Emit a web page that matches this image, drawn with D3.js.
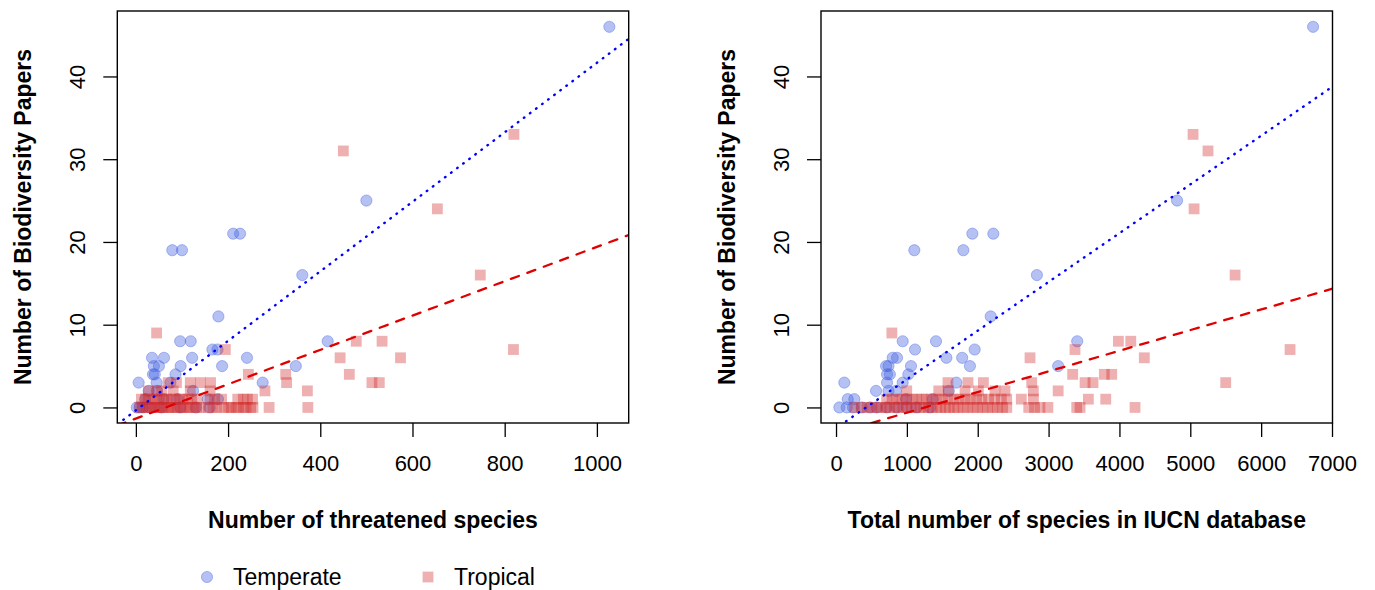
<!DOCTYPE html>
<html>
<head>
<meta charset="utf-8">
<script src="https://cdn.jsdelivr.net/npm/d3@7"></script>
<style>
  body { margin: 0; background: #fff; }
  text { font-family: "Liberation Sans", Arial, Helvetica, sans-serif; fill: #000; }
</style>
</head>
<body>
<div id="graf"></div>
<script>
// I. [x, papers]
temperadoAmen = [[1027,46],[500,25],[211,21],[226,21],[79,19],[100,19],[361,16],[179,11],
  [96,8],[119,8],[416,8],[166,7],[177,7],[35,6],[61,6],[122,6],[241,6],[39,5],[50,5],[97,5],
  [187,5],[347,5],[37,4],[41,4],[86,4],[6,3],[45,3],[75,3],[275,3],[28,2],[46,2],[124,2],
  [20,1],[60,1],[90,1],[156,1],[178,1],[2,0],[8,0],[15,0],[30,0],[55,0],[96,0],[130,0],[160,0]]

tropicalAmen = [[820,33],[450,31],[654,24],[747,16],[45,9],[478,8],[534,8],[194,7],[819,7],
  [443,6],[574,6],[244,4],[325,4],[463,4],
  [70,3],[88,3],[118,3],[140,3],[162,3],[327,3],[512,3],[528,3],
  [27,2],[46,2],[56,2],[81,2],[118,2],[161,2],[280,2],[372,2],
  [12,1],[21,1],[27,1],[36,1],[45,1],[51,1],[61,1],[67,1],[77,1],[85,1],[95,1],[102,1],
  [113,1],[121,1],[133,1],[161,1],[171,1],[186,1],[221,1],[233,1],[242,1],[253,1],
  [8,0],[14,0],[23,0],[28,0],[35,0],[40,0],[47,0],[51,0],[59,0],[63,0],[71,0],[76,0],
  [85,0],[89,0],[98,0],[103,0],[111,0],[117,0],[126,0],[132,0],[141,0],[157,0],[167,0],
  [176,0],[191,0],[201,0],[207,0],[217,0],[223,0],[233,0],[239,0],[249,0],[254,0],[289,0],[373,0]]

temperadoTotal = [[6733,46],[4813,25],[1924,21],[2220,21],[1105,19],[1797,19],[2835,16],
  [2183,11],[941,8],[1411,8],[3404,8],[1115,7],[1957,7],[800,6],[861,6],[1558,6],[1780,6],
  [706,5],[740,5],[1058,5],[1890,5],[3135,5],[720,4],[760,4],[1021,4],[117,3],[720,3],
  [941,3],[1700,3],[565,2],[740,2],[847,2],[1592,2],[165,1],[258,1],[988,1],[1365,1],
  [47,0],[151,0],[240,0],[363,0],[480,0],[574,0],[715,0],[856,0],[997,0],[1138,0],[1327,0]]

tropicalTotal = [[5039,33],[5250,31],[5053,24],[5632,16],[788,9],[3985,8],[4160,8],
  [3373,7],[6408,7],[2738,6],[4351,6],[3340,4],[3787,4],[3891,4],
  [1580,3],[1863,3],[2080,3],[2762,3],[3515,3],[3627,3],[5500,3],
  [998,2],[1450,2],[1585,2],[1821,2],[2009,2],[2244,2],[2385,2],[2785,2],[3135,2],
  [715,1],[792,1],[858,1],[934,1],[996,1],[1075,1],[1138,1],[1214,1],[1277,1],[1352,1],
  [1418,1],[1503,1],[1577,1],[1664,1],[1738,1],[1823,1],[1897,1],[1984,1],[2058,1],
  [2153,1],[2238,1],[2333,1],[2409,1],[2615,1],[2786,1],[3561,1],[3807,1],
  [262,0],[358,0],[441,0],[508,0],[583,0],[638,0],[702,0],[757,0],[823,0],
  [878,0],[943,0],[998,0],[1063,0],[1117,0],[1184,0],[1238,0],[1303,0],[1357,0],[1424,0],
  [1478,0],[1543,0],[1598,0],[1663,0],[1718,0],[1793,0],[1858,0],[1934,0],[1998,0],
  [2073,0],[2138,0],[2213,0],[2278,0],[2352,0],[2410,0],[2720,0],[2802,0],[2878,0],
  [2990,0],[3397,0],[3444,0],[4220,0]]

// ajustes lineales [intercepto, pendiente]
ajusteTempAmen = [-0.35, 0.042]
ajusteTropAmen = [-1.34, 0.02074]
ajusteTempTotal = [-2.5, 0.00589]
ajusteTropTotal = [-3.13, 0.002495]

ticksAmen = [0, 200, 400, 600, 800, 1000]
ticksTotal = [0, 1000, 2000, 3000, 4000, 5000, 6000, 7000]
ticksY = [0, 10, 20, 30, 40]

tituloX = ['Number of threatened species', 'Total number of species in IUCN database']
tituloY = 'Number of Biodiversity Papers'
leyenda = ['Temperate', 'Tropical']

// II. Configuración
ancho_total = 1375
alto_total = 590
arriba = 11
abajo = 423
colTemp = 'rgb(70,100,225)'
colTrop = 'rgb(210,40,40)'
fsTick = 22
fsTitulo = 23
radio = 5.6
lado = 10.8

svg = d3.select('#graf').append('svg')
  .attr('width', ancho_total)
  .attr('height', alto_total)

function panel(id, izq, der, dominioX, ticksX, titulo, temp, trop, ajT, ajR) {
  x = d3.scaleLinear().domain(dominioX).range([izq, der])
  y = d3.scaleLinear().domain([-1.88, 47.91]).range([abajo, arriba])

  g = svg.append('g')

  g.append('clipPath')
    .attr('id', 'clip' + id)
    .append('rect')
    .attr('x', izq).attr('y', arriba)
    .attr('width', der - izq).attr('height', abajo - arriba)

  // puntos
  g.append('g').selectAll('circle')
    .data(temp)
    .enter().append('circle')
      .attr('cx', d => x(d[0]))
      .attr('cy', d => y(d[1]))
      .attr('r', radio)
      .attr('fill', colTemp)
      .attr('fill-opacity', 0.4)
      .attr('stroke', colTemp)
      .attr('stroke-opacity', 0.4)
      .attr('stroke-width', 1)

  g.append('g').selectAll('rect')
    .data(trop)
    .enter().append('rect')
      .attr('x', d => x(d[0]) - lado / 2)
      .attr('y', d => y(d[1]) - lado / 2)
      .attr('width', lado)
      .attr('height', lado)
      .attr('fill', colTrop)
      .attr('fill-opacity', 0.37)

  // rectas de regresion
  linea = (aj) => dominioX.map(v => [x(v), y(aj[0] + aj[1] * v)])
  g.append('path')
    .attr('d', d3.line()(linea(ajR)))
    .attr('clip-path', `url(#clip${id})`)
    .attr('stroke', '#e00000')
    .attr('stroke-width', 2.3)
    .attr('stroke-linecap', 'round')
    .attr('stroke-dasharray', '8.5,9')
    .attr('fill', 'none')
  g.append('path')
    .attr('d', d3.line()(linea(ajT)))
    .attr('clip-path', `url(#clip${id})`)
    .attr('stroke', '#0000ff')
    .attr('stroke-width', 2.4)
    .attr('stroke-linecap', 'round')
    .attr('stroke-dasharray', '0.6,7')
    .attr('fill', 'none')

  // ejes
  ejeX = g.append('g')
    .attr('transform', `translate(0,${abajo})`)
    .call(d3.axisBottom(x).tickValues(ticksX).tickSize(14).tickFormat(d3.format('d')))
  ejeY = g.append('g')
    .attr('transform', `translate(${izq},0)`)
    .call(d3.axisLeft(y).tickValues(ticksY).tickSize(14))

  ejeX.select('.domain').remove()
  ejeY.select('.domain').remove()
  g.selectAll('.tick line').attr('stroke', '#000').attr('stroke-width', 1.3)

  ejeX.selectAll('text')
    .attr('y', 40)
    .attr('dy', '0.35em')
    .attr('font-size', fsTick + 'px')
    .attr('font-family', null)
  ejeY.selectAll('text')
    .attr('transform', 'rotate(-90)')
    .attr('x', 0)
    .attr('y', -40)
    .attr('dy', '0.35em')
    .attr('text-anchor', 'middle')
    .attr('font-size', fsTick + 'px')
    .attr('font-family', null)

  g.append('rect')
    .attr('x', izq).attr('y', arriba)
    .attr('width', der - izq).attr('height', abajo - arriba)
    .attr('fill', 'none')
    .attr('stroke', '#000')
    .attr('stroke-width', 1.4)

  // titulos
  g.append('text')
    .attr('x', (izq + der) / 2)
    .attr('y', abajo + 97)
    .attr('dy', '0.35em')
    .attr('text-anchor', 'middle')
    .attr('font-weight', 'bold')
    .attr('font-size', fsTitulo + 'px')
    .text(titulo)
  g.append('text')
    .attr('transform', `translate(${izq - 94},${(arriba + abajo) / 2}) rotate(-90)`)
    .attr('dy', '0.35em')
    .attr('text-anchor', 'middle')
    .attr('font-weight', 'bold')
    .attr('font-size', fsTitulo + 'px')
    .text(tituloY)
}

panel('a', 117.3, 628.7, [-40.3, 1069], ticksAmen, tituloX[0],
      temperadoAmen, tropicalAmen, ajusteTempAmen, ajusteTropAmen)
panel('b', 821, 1332.5, [-212, 7007], ticksTotal, tituloX[1],
      temperadoTotal, tropicalTotal, ajusteTempTotal, ajusteTropTotal)

// leyenda
ley = svg.append('g')
ley.append('circle')
  .attr('cx', 207).attr('cy', 577).attr('r', radio)
  .attr('fill', colTemp).attr('fill-opacity', 0.4)
  .attr('stroke', colTemp).attr('stroke-opacity', 0.4)
ley.append('text')
  .attr('x', 233).attr('y', 577).attr('dy', '0.35em')
  .attr('font-size', fsTitulo + 'px')
  .text(leyenda[0])
ley.append('rect')
  .attr('x', 428 - lado / 2).attr('y', 577 - lado / 2)
  .attr('width', lado).attr('height', lado)
  .attr('fill', colTrop).attr('fill-opacity', 0.37)
ley.append('text')
  .attr('x', 454).attr('y', 577).attr('dy', '0.35em')
  .attr('font-size', fsTitulo + 'px')
  .text(leyenda[1])
</script>
</body>
</html>
